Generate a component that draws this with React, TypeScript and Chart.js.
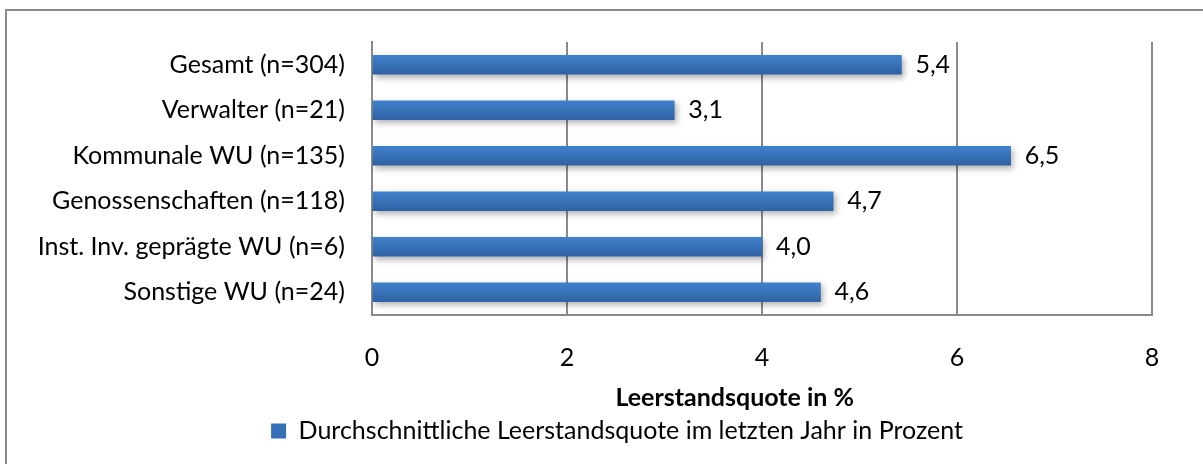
import React, { useEffect, useRef } from "react";
import { Chart, registerables } from "chart.js";

Chart.register(...registerables);

const categories = [
  "Gesamt (n=304)",
  "Verwalter (n=21)",
  "Kommunale WU (n=135)",
  "Genossenschaften (n=118)",
  "Inst. Inv. geprägte WU (n=6)",
  "Sonstige WU (n=24)",
];
const values = [5.43, 3.1, 6.55, 4.73, 4.0, 4.6];
const valueLabels = ["5,4", "3,1", "6,5", "4,7", "4,0", "4,6"];
const seriesName = "Durchschnittliche Leerstandsquote im letzten Jahr in Prozent";
const axisTitle = "Leerstandsquote in %";
const xMin = 0;
const xMax = 8;
const xStep = 2;

const FONT = "Lato, 'Liberation Sans', sans-serif";
const FS = 25;
const GRID = "#8a8a8a";
const BAR_TOP = "#4082cd";
const BAR_BOTTOM = "#2e61a2";

export default function App() {
  const ref = useRef<HTMLCanvasElement | null>(null);

  useEffect(() => {
    const canvas = ref.current;
    if (!canvas) return;

    const frame = {
      id: "frame",
      beforeDraw(chart: any) {
        const c = chart.ctx;
        c.save();
        c.strokeStyle = GRID;
        c.lineWidth = 2;
        c.beginPath();
        c.moveTo(6, chart.height + 2);
        c.lineTo(6, 10);
        c.lineTo(chart.width + 2, 10);
        c.stroke();
        c.restore();
      },
    };

    const shadow = {
      id: "barShadow",
      beforeDatasetsDraw(chart: any) {
        const c = chart.ctx;
        c.save();
        c.shadowColor = "rgba(0,0,0,0.3)";
        c.shadowBlur = 6;
        c.shadowOffsetX = 2;
        c.shadowOffsetY = 3;
      },
      afterDatasetsDraw(chart: any) {
        chart.ctx.restore();
        const c = chart.ctx;
        const meta = chart.getDatasetMeta(0);
        c.save();
        c.font = `${FS}px ${FONT}`;
        c.fillStyle = "#000";
        c.textAlign = "left";
        c.textBaseline = "middle";
        meta.data.forEach((bar: any, i: number) => {
          c.fillText(valueLabels[i], bar.x + 14, bar.y);
        });
        c.restore();
      },
    };

    const titlePlugin = {
      id: "axisTitle",
      afterDraw(chart: any) {
        const c = chart.ctx;
        const a = chart.chartArea;
        const xs = chart.scales.x;
        c.save();
        c.font = `bold ${FS}px ${FONT}`;
        c.fillStyle = "#000";
        c.textAlign = "center";
        c.textBaseline = "middle";
        c.fillText(axisTitle, a.left + (a.right - a.left) * 0.465, xs.top + 83);
        c.restore();
      },
    };

    const chart = new Chart(canvas, {
      type: "bar",
      data: {
        labels: categories,
        datasets: [
          {
            label: seriesName,
            data: values,
            backgroundColor: (ctx: any) => {
              const ch = ctx.chart;
              if (ctx.dataIndex === undefined || !ch.chartArea || !ch.scales.y) return BAR_TOP;
              const y = ch.scales.y.getPixelForValue(ctx.dataIndex);
              const g = ch.ctx.createLinearGradient(0, y - 10, 0, y + 10);
              g.addColorStop(0, BAR_TOP);
              g.addColorStop(1, BAR_BOTTOM);
              return g;
            },
            borderWidth: 0,
            barThickness: 19,
          },
        ],
      },
      options: {
        indexAxis: "y",
        animation: false,
        responsive: false,
        maintainAspectRatio: false,
        layout: { padding: { left: 31, right: 0, top: 32, bottom: 10.5 } },
        font: { family: FONT, size: FS },
        scales: {
          x: {
            type: "linear",
            position: "bottom",
            min: xMin,
            max: xMax,
            ticks: { stepSize: xStep, color: "#000", font: { family: FONT, size: FS }, padding: 28 },
            grid: { color: GRID, lineWidth: 2, drawTicks: false },
            border: { display: true, color: GRID, width: 2 },
            afterFit: (s: any) => {
              s.height = 97;
            },
          },
          y: {
            type: "category",
            position: "left",
            ticks: { color: "#000", font: { family: FONT, size: FS }, padding: 27 },
            grid: { display: false, drawTicks: false },
            border: { display: true, color: GRID, width: 2 },
            afterFit: (s: any) => {
              s.width = 341;
            },
          },
          y2: {
            type: "linear",
            axis: "y",
            position: "right",
            display: true,
            ticks: { display: false },
            grid: { display: false, drawTicks: false },
            border: { display: false },
            afterFit: (s: any) => {
              s.width = 51;
            },
          },
        },
        plugins: {
          legend: {
            display: true,
            position: "bottom",
            labels: {
              color: "#000",
              font: { family: FONT, size: FS },
              boxWidth: 15,
              boxHeight: 15,
              padding: 6.5,
              generateLabels: () => [
                {
                  text: seriesName,
                  fillStyle: "#3670b8",
                  strokeStyle: "#3670b8",
                  lineWidth: 0,
                  hidden: false,
                  datasetIndex: 0,
                },
              ],
            },
          },
          tooltip: { enabled: false },
        },
      } as any,
      plugins: [frame, shadow, titlePlugin],
    });

    return () => chart.destroy();
  }, []);

  return (
    <div style={{ position: "fixed", left: 0, top: 0, width: 1203, height: 464, background: "#fff" }}>
      <canvas ref={ref} width={1203} height={464} style={{ width: 1203, height: 464, display: "block" }} />
    </div>
  );
}
